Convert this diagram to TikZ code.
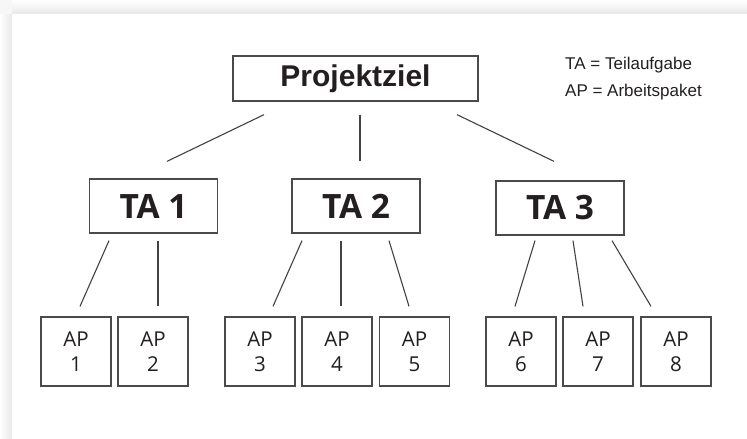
\documentclass[tikz,border=0pt]{standalone}
\usepackage{fontspec}
\usepackage{tikz}
\usetikzlibrary{positioning}

\newfontfamily\zielfont{Liberation Sans}
\newfontfamily\tafont[WordSpace=1.6]{Open Sans}
\newfontfamily\apfont{Open Sans}
\newfontfamily\legfont{Liberation Sans}

\definecolor{ink}{HTML}{231F20}
\definecolor{boxline}{HTML}{4A4A4A}

\begin{document}
\begin{tikzpicture}[x=1pt, y=-1pt,
        zielbox/.style={draw=boxline, line width=1.3pt, minimum width=245pt, minimum height=45pt,
            inner sep=0pt, text=ink, font=\zielfont\bfseries\fontsize{30}{32}\selectfont},
        tabox/.style={draw=boxline, line width=1.3pt, minimum width=128pt, minimum height=54pt,
            inner sep=0pt, text=ink, font=\tafont\bfseries\fontsize{33.5}{35}\selectfont},
        apbox/.style={draw=boxline, line width=1.3pt, minimum width=70pt, minimum height=69pt,
            inner sep=0pt, align=center, text=ink, font=\apfont\fontsize{20.5}{25}\selectfont},
        conn/.style={draw=ink!85, line width=1.1pt},
        legend/.style={anchor=base west, inner sep=0pt, text=ink, font=\legfont\fontsize{17}{19}\selectfont}]
        % card with a soft shadow
        \useasboundingbox (0,0) rectangle (747,439);
        \fill[black!3] (0,0) rectangle (747,439);
        \shade[left color=white, right color=black!9] (0,14) rectangle (12,439);
        \shade[top color=white, bottom color=black!9] (12,0) rectangle (747,14);
        \fill[white] (12,14) rectangle (747,439);

        % Nodes
        \node[zielbox] (ziel) at (355.5,78.5) {Projektziel};
        \node[tabox] (ta1) at (153.5,206) {TA 1};
        \node[tabox] (ta2) at (356,206) {TA 2};
        \node[tabox] (ta3) at (560,208) {TA 3};
        \node[apbox] (ap1) at (76,351.5) {AP\\1};
        \node[apbox] (ap2) at (153,351.5) {AP\\2};
        \node[apbox] (ap3) at (260,351.5) {AP\\3};
        \node[apbox] (ap4) at (337,351.5) {AP\\4};
        \node[apbox] (ap5) at (414.5,351.5) {AP\\5};
        \node[apbox] (ap6) at (521,351.5) {AP\\6};
        \node[apbox] (ap7) at (598,351.5) {AP\\7};
        \node[apbox] (ap8) at (676,351.5) {AP\\8};

        % Legend
        \node[legend] (leg1) at (565,69) {TA = Teilaufgabe};
        \node[legend] (leg2) at (565,96) {AP = Arbeitspaket};

        % Lines
        \draw[conn] ([shift={(-91.5,13)}]ziel.south) -- ([shift={(13.5,-17)}]ta1.north);
        \draw[conn] ([shift={(4.5,13)}]ziel.south) -- ([shift={(4,-17)}]ta2.north);
        \draw[conn] ([shift={(101.5,13)}]ziel.south) -- ([shift={(-6,-19)}]ta3.north);

        \draw[conn] ([shift={(-44.5,7)}]ta1.south) -- ([shift={(4,-10)}]ap1.north);
        \draw[conn] ([shift={(4.5,7)}]ta1.south) -- ([shift={(5,-10)}]ap2.north);

        \draw[conn] ([shift={(-54,7)}]ta2.south) -- ([shift={(13,-10)}]ap3.north);
        \draw[conn] ([shift={(-15,7)}]ta2.south) -- ([shift={(4,-10)}]ap4.north);
        \draw[conn] ([shift={(33,7)}]ta2.south) -- ([shift={(-5.5,-10)}]ap5.north);

        \draw[conn] ([shift={(-25,5)}]ta3.south) -- ([shift={(-6,-10)}]ap6.north);
        \draw[conn] ([shift={(13,5)}]ta3.south) -- ([shift={(-15,-10)}]ap7.north);
        \draw[conn] ([shift={(52,5)}]ta3.south) -- ([shift={(-25,-10)}]ap8.north);
    \end{tikzpicture}
\end{document}
